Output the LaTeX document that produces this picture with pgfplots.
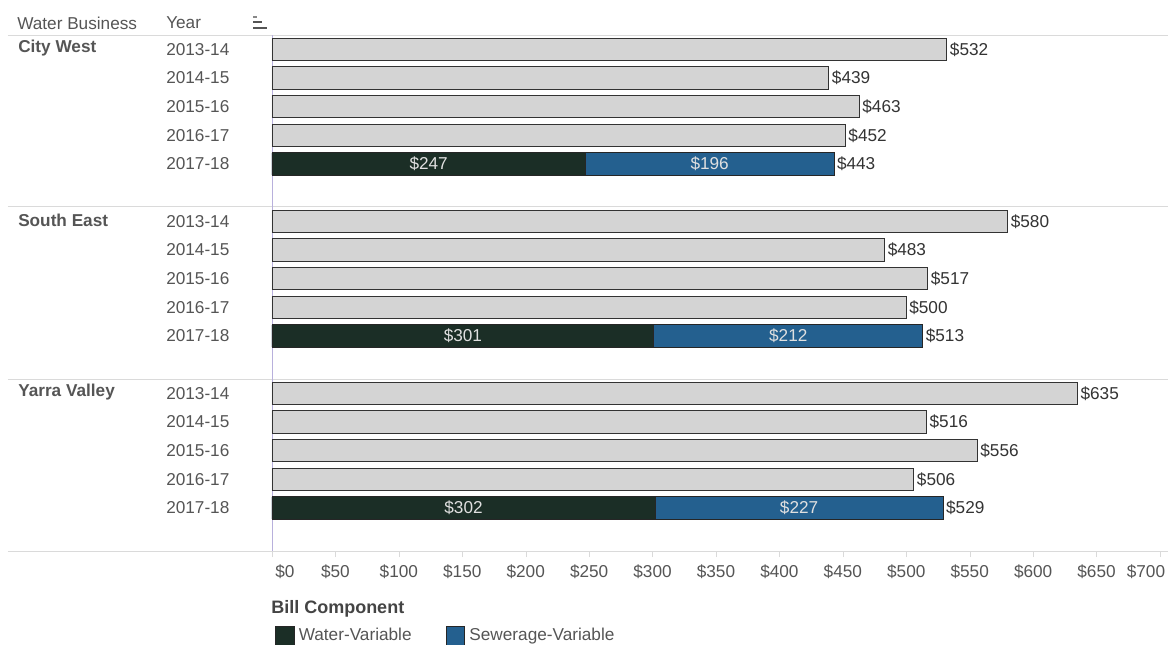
\documentclass[border=0pt]{standalone}
\usepackage{pgfplots}
\pgfplotsset{compat=1.18}
\usepackage{fontspec}
\setmainfont{Liberation Sans}
\definecolor{txt}{HTML}{555555}
\definecolor{val}{HTML}{333333}
\definecolor{barg}{HTML}{D4D4D4}
\definecolor{water}{HTML}{1B2E26}
\definecolor{sewer}{HTML}{24608F}
\definecolor{sep}{HTML}{DADADA}
\definecolor{yline}{HTML}{B8B0DC}
\begin{document}
\begin{tikzpicture}[font=\fontsize{12.9}{15}\selectfont]
% page = 1168 x 644 px, 1px = 0.75pt, axis origin at px (272,551)
\useasboundingbox (-204pt,-69.75pt) rectangle (672pt,413.25pt);
\begin{scope}[x=0.75pt,y=-0.75pt,shift={(-204pt,413.25pt)}]
  \draw[sep] (8,35) -- (1168,35);
  \draw[sep] (8,206) -- (1168,206);
  \draw[sep] (8,379) -- (1168,379);
  \draw[sep] (8,551) -- (1168,551);
  \node[anchor=west,inner sep=0pt,text=txt] at (17,23) {Water Business};
  \node[anchor=west,inner sep=0pt,text=txt] at (166,23) {Year};
  \fill[txt!70] (253,15.7) rectangle (257,17.7);
  \fill[txt] (253,21.3) rectangle (262,23.3);
  \fill[txt] (253,27.3) rectangle (267,29.3);
  \node[anchor=west,inner sep=0pt,text=txt,font=\fontsize{12.9}{15}\selectfont\bfseries] at (18,48) {City West};
  \node[anchor=west,inner sep=0pt,text=txt,font=\fontsize{12.9}{15}\selectfont\bfseries] at (18,220) {South East};
  \node[anchor=west,inner sep=0pt,text=txt,font=\fontsize{12.9}{15}\selectfont\bfseries] at (18,392) {Yarra Valley};
  \node[anchor=west,inner sep=0pt,text=txt!80!black,font=\fontsize{13.5}{16}\selectfont\bfseries] at (271,609) {Bill Component};
\end{scope}
\begin{axis}[
  at={(0pt,0pt)}, anchor=south west,
  scale only axis, width=666pt, height=387pt,
  xmin=0, xmax=700, ymin=-17.5, ymax=0.5,
  clip=false,
  axis x line=bottom, axis y line=left, axis line style={-},
  x axis line style={draw=sep}, y axis line style={draw=yline},
  tick align=outside, major tick length=4.5pt,
  xtick={0,50,...,700},
  xticklabels={\hspace*{19.5pt}\$0,\$50,\$100,\$150,\$200,\$250,\$300,\$350,
               \$400,\$450,\$500,\$550,\$600,\$650,\$700\hspace*{21pt}},
  xtick style={draw=sep},
  xticklabel style={text=txt, yshift=-2.2pt},
  ytick={0,-1,-2,-3,-4,-6,-7,-8,-9,-10,-12,-13,-14,-15,-16},
  yticklabels={2013-14,2014-15,2015-16,2016-17,2017-18,
               2013-14,2014-15,2015-16,2016-17,2017-18,
               2013-14,2014-15,2015-16,2016-17,2017-18},
  ytick style={draw=none},
  yticklabel style={anchor=west, inner xsep=0pt, xshift=-75pt, text=txt},
  /pgf/number format/assume math mode=true,
  bar width=0.78,
  legend image code/.code={\draw[#1] (0pt,-7pt) rectangle (14pt,7pt);},
  legend style={at={(0.003,-0.145)}, anchor=north west, draw=none, fill=none,
    legend columns=2, text=txt, inner sep=0pt,
    nodes={inner xsep=3.5pt, inner ysep=0pt},
    /tikz/every even column/.append style={column sep=22pt}},
]
\addlegendimage{fill=water, draw=black!85}
\addlegendentry{Water-Variable}
\addlegendimage{fill=sewer, draw=black!85}
\addlegendentry{Sewerage-Variable}

% 2013-14 to 2016-17 totals
\addplot[xbar, bar shift=0pt, forget plot, fill=barg, draw=val, line width=0.6pt,
  point meta=x, nodes near coords={\$\pgfmathprintnumber{\pgfplotspointmeta}},
  nodes near coords align=horizontal,
  every node near coord/.append style={text=val, inner xsep=2pt}]
  coordinates {
  (532,0) (439,-1) (463,-2) (452,-3)
  (580,-6) (483,-7) (517,-8) (500,-9)
  (635,-12) (516,-13) (556,-14) (506,-15)
  };
% 2017-18 total (water + sewerage)
\addplot[xbar, bar shift=0pt, forget plot, fill=sewer, draw=black!85, line width=0.6pt,
  point meta=x, nodes near coords={\$\pgfmathprintnumber{\pgfplotspointmeta}},
  nodes near coords align=horizontal,
  every node near coord/.append style={text=val, inner xsep=2pt}]
  coordinates {(443,-4) (513,-10) (529,-16)};
% 2017-18 water-variable part
\addplot[xbar, bar shift=0pt, forget plot, fill=water, draw=black!85, line width=0.6pt]
  coordinates {(247,-4) (301,-10) (302,-16)};
% segment labels
\addplot[forget plot, draw=none, mark=none, point meta=explicit symbolic,
  nodes near coords,
  every node near coord/.append style={text=white!88!black, anchor=center}]
  coordinates {
  (123.5,-4) [\$247] (345,-4) [\$196]
  (150.5,-10) [\$301] (407,-10) [\$212]
  (151,-16) [\$302] (415.5,-16) [\$227]
  };
\end{axis}
\end{tikzpicture}
\end{document}
